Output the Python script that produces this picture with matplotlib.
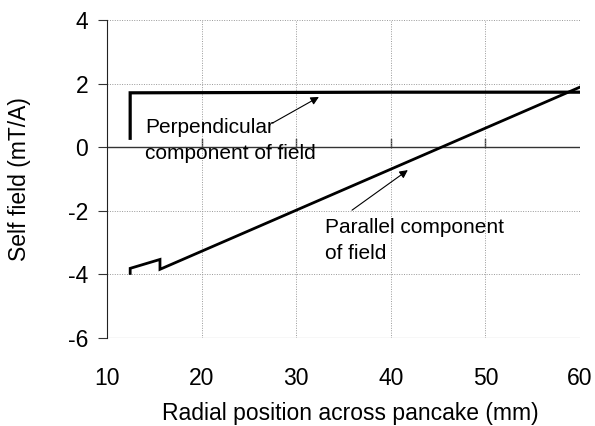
import matplotlib
matplotlib.use("Agg")
import matplotlib.pyplot as plt

perp_x = [12.45, 12.45, 40, 60]
perp_y = [0.28, 1.71, 1.73, 1.73]
par_x = [12.45, 12.45, 15.6, 15.6, 60]
par_y = [-3.97, -3.81, -3.53, -3.84, 1.89]
x_ticks = [10, 20, 30, 40, 50, 60]
y_ticks = [-6, -4, -2, 0, 2, 4]

plt.rcParams['font.family'] = ['Liberation Sans', 'DejaVu Sans']
plt.rcParams['axes.unicode_minus'] = False
W, H = 595, 426
fig = plt.figure(figsize=(5.95, 4.26), dpi=100)
ax = fig.add_axes([107 / W, (H - 338) / H, 473 / W, 318 / H])
ax.set_xlim(10, 60)
ax.set_ylim(-6, 4)
ax.set_xticks(x_ticks)
ax.set_yticks(y_ticks)
ax.grid(True, color='#999999', linestyle=(0, (1, 1.5)), linewidth=0.7)
for s in ['top', 'right', 'bottom']:
    ax.spines[s].set_visible(False)
ax.spines['left'].set_color('#222222')
ax.axhline(-6, color='#777777', linewidth=0.8)
ax.axhline(0, color='#333333', linewidth=1.0)
for xv in x_ticks[1:-1]:
    ax.plot([xv, xv], [0, 0.25], color='#333333', linewidth=1.0, zorder=1)
ax.tick_params(axis='x', length=0, labelsize=16.5, pad=21)
ax.tick_params(axis='y', length=6.5, labelsize=16.5, pad=7, direction='out', color='#333333')

ax.plot(perp_x, perp_y, color='black', linewidth=2.3, solid_joinstyle='miter')
ax.plot(par_x, par_y, color='black', linewidth=2.0, solid_joinstyle='miter')

ax.text(14.0, 0.2, 'Perpendicular\ncomponent of field', fontsize=15,
        ha='left', va='center', linespacing=1.45)
ax.annotate('', xy=(32.4, 1.58), xytext=(27.5, 0.76),
            arrowprops=dict(arrowstyle='-|>', color='black', lw=0.8, mutation_scale=12,
                            shrinkA=0, shrinkB=0))
ax.text(33.0, -2.93, 'Parallel component\nof field', fontsize=15,
        ha='left', va='center', linespacing=1.45)
ax.annotate('', xy=(41.8, -0.72), xytext=(35.9, -1.98),
            arrowprops=dict(arrowstyle='-|>', color='black', lw=0.8, mutation_scale=12,
                            shrinkA=0, shrinkB=0))

fig.text(20 / W, (H - 179) / H, 'Self field (mT/A)', fontsize=16.5,
         rotation=90, ha='center', va='center')
fig.text(350 / W, 6 / H, 'Radial position across pancake (mm)', fontsize=16.5,
         ha='center', va='baseline')

fig.savefig('out.png', dpi=100)
